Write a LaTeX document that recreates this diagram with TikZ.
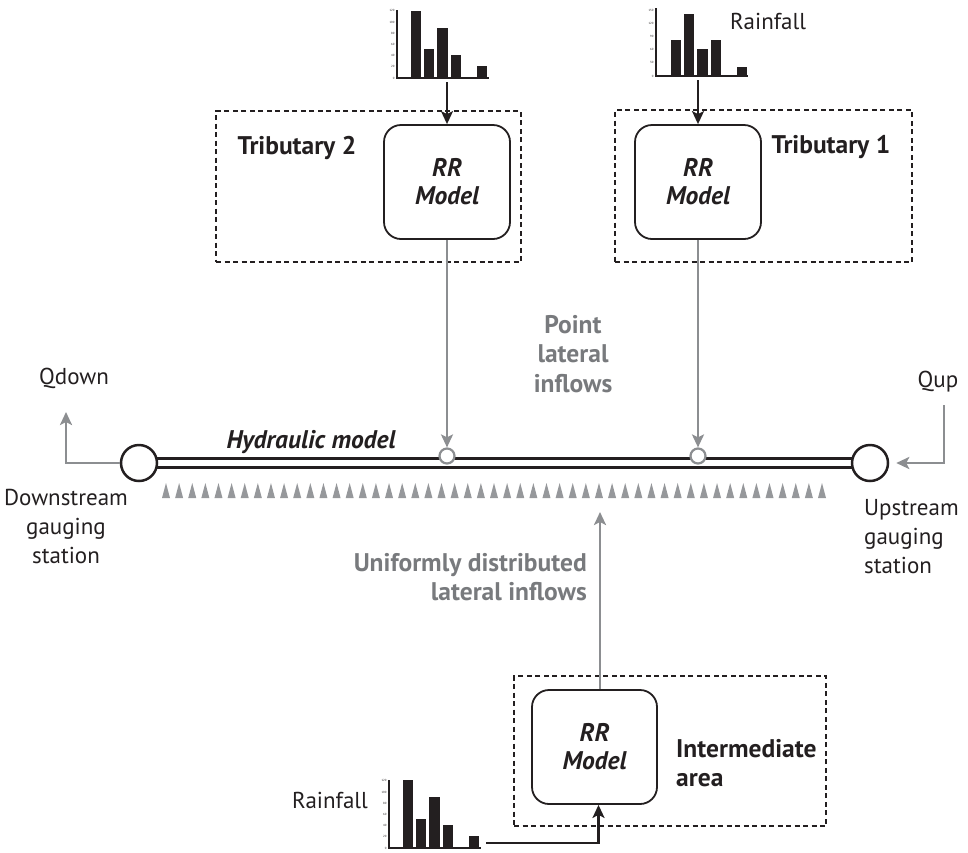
\documentclass[tikz,border=0pt]{standalone}
\usepackage{fontspec}
\setmainfont{PT Sans}
\usetikzlibrary{arrows.meta,backgrounds}
\definecolor{ink}{RGB}{35,31,32}
\definecolor{arrgray}{RGB}{140,142,145}
\definecolor{txtgray}{RGB}{120,122,125}
\definecolor{trigray}{RGB}{150,152,155}
\tikzset{
  dbox/.style={draw=ink, line width=1.8pt, dash pattern=on 5pt off 3.5pt},
  rrbox/.style={draw=ink, line width=1.8pt, rounded corners=17pt, minimum width=126pt, minimum height=114pt, align=center, font=\fontsize{25.5}{28}\selectfont\bfseries\itshape, text=ink, inner sep=0pt},
  myhead/.style={-{Stealth[length=13pt,width=12pt,inset=3pt]}},
  garrow/.style={draw=arrgray, line width=2.5pt, myhead},
  barrow/.style={draw=ink, line width=2.2pt, myhead},
  lbl/.style={font=\fontsize{23}{29}\selectfont, text=ink, align=center, inner sep=0pt},
  blbl/.style={lbl, font=\fontsize{25.5}{29.5}\selectfont\bfseries},
  glbl/.style={blbl, text=txtgray},
  bigst/.style={circle, draw=ink, line width=2.5pt, fill=white, minimum size=36pt, inner sep=0pt},
  smallst/.style={circle, draw=arrgray, line width=2.2pt, fill=white, minimum size=15pt, inner sep=0pt},
  river/.style={draw=ink, line width=2.5pt},
  bar/.style={fill=ink},
  chaxis/.style={draw=ink, line width=2.2pt},
  ticklbl/.style={font=\fontsize{3}{3}\selectfont, text=ink, inner sep=0.3pt, anchor=east},
}
\newcommand{\rainbars}[3]{%
  \foreach \o/\h in {#3} { \fill[bar] ({#1+\o},#2) rectangle ({#1+\o+10.5},{#2-\h}); }
  \draw[chaxis] (#1,{#2-68}) -- (#1,#2) -- ({#1+92},#2);
}
\begin{document}
\begin{tikzpicture}[x=1pt,y=-1pt]
\useasboundingbox (0,0) rectangle (968,852);

% dashed areas
\node[dbox, minimum width=305pt, minimum height=151pt] (t2area) at (368.5,186.5) {};
\node[dbox, minimum width=297pt, minimum height=152pt] (t1area) at (763.5,186) {};
\node[dbox, minimum width=312pt, minimum height=150pt] (iarea) at (670,751) {};

% RR models
\node[rrbox] (rr2) at (447,182) {RR\\Model};
\node[rrbox] (rr1) at (698,182) {RR\\Model};
\node[rrbox, minimum width=125pt] (rr3) at (594.5,747) {RR\\Model};

% labels
\node[blbl] (t2lbl) at (297,148) {Tributary 2};
\node[blbl] (t1lbl) at (831,147) {Tributary 1};
\node[blbl, align=left, anchor=west] (ilbl) at (676,763) {Intermediate\\area};
\node[lbl, anchor=west] (rf1) at (730,21) {Rainfall};
\node[lbl] (rf3) at (330,800) {Rainfall};
\node[glbl] (pli) at (573,354) {Point\\lateral\\inflows};
\node[glbl, align=right, anchor=east] (udli) at (587,577) {Uniformly distributed\\lateral inflows};
\node[lbl] (qdown) at (74,378) {Qdown};
\node[lbl] (qup) at (938,382) {Qup};
\node[lbl] (dsl) at (66,526) {Downstream\\gauging\\station};
\node[lbl, align=left, anchor=west] (usl) at (864,537) {Upstream\\gauging\\station};
\node[font=\fontsize{25.5}{29}\selectfont\bfseries\itshape, text=ink, inner sep=0pt] (hyd) at (311,442) {Hydraulic model};

% stations
\node[bigst] (dst) at (139,463) {};
\node[bigst] (ust) at (870,463) {};
\node[smallst] (p2) at (447,456) {};
\node[smallst] (p1) at (698,456) {};

\begin{scope}[on background layer]
\draw[river] ([yshift=4.5pt]dst.center) -- ([yshift=4.5pt]ust.center);
\draw[river] ([yshift=-4.5pt]dst.center) -- ([yshift=-4.5pt]ust.center);
\end{scope}

% distributed inflow triangles
\foreach \i in {0,...,50} \fill[trigray] ({162+13.12*\i},498) -- ++(4,-15) -- ++(4,15) -- cycle;

% rainfall charts
\rainbars{397}{78}{13.5/67, 26.5/29, 40/50, 53.5/23, 79.5/12}
\rainbars{656}{76}{14.5/36, 27.5/62, 41/27, 54.5/36, 80.5/9}
\rainbars{389}{848}{13.5/68, 26.5/29, 40/51, 53.5/23, 79.5/12}
\foreach \k [count=\n from 0] in {0,20,...,120} {
  \node[ticklbl] at (395,{78-\n*11.2}) {\k};
  \node[ticklbl] at (387,{848-\n*11.2}) {\k};
}
\foreach \k [count=\n from 0] in {0,30,...,150} {
  \node[ticklbl] at (654,{76-\n*13.2}) {\k};
}

% connectors
\coordinate (c2out) at (447,82);
\coordinate (c1out) at (698,80);
\coordinate (c3out) at (486,843);
\draw[barrow] (c2out) -- (rr2.north);
\draw[barrow] (c1out) -- (rr1.north);
\draw[barrow] (c3out) -| ([xshift=4pt]rr3.south);
\draw[garrow] (rr2.south) -- (p2.north);
\draw[garrow] (rr1.south) -- (p1.north);
\coordinate (uin) at (600,512);
\draw[garrow] (rr3.north -| uin) -- (uin);
\coordinate (qdbend) at (66,463);
\coordinate (qdtip) at (66,412);
\draw[garrow] (dst.west) -- (qdbend) -- (qdtip);
\coordinate (qustart) at (944,405);
\coordinate (qubend) at (944,463);
\draw[garrow] (qustart) -- (qubend) -- ([xshift=7pt]ust.east);
\end{tikzpicture}
\end{document}
